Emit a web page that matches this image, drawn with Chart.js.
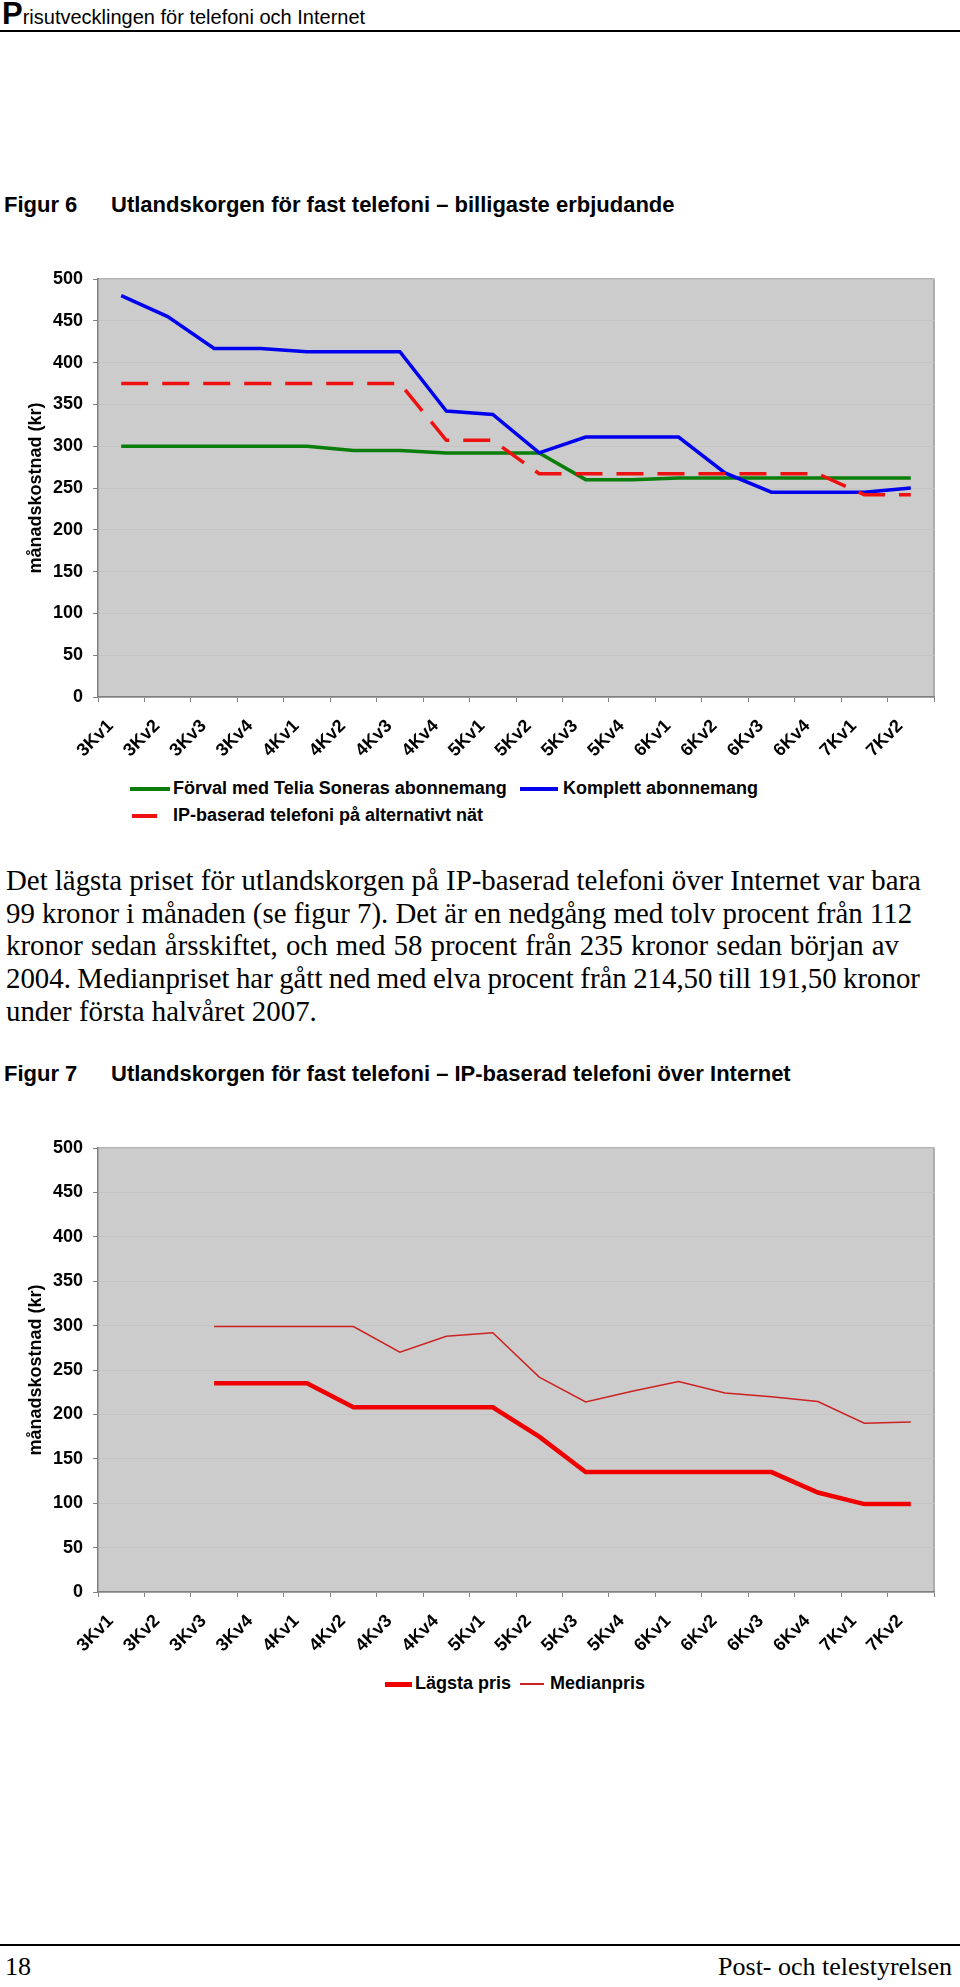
<!DOCTYPE html>
<html lang="sv">
<head>
<meta charset="UTF-8">
<title>Prisutvecklingen för telefoni och Internet</title>
<script src="https://cdn.jsdelivr.net/npm/chart.js@4"></script>
<style>
  body { margin: 0; background: #fff; }
  .page { position: relative; width: 960px; height: 1987px; overflow: hidden; font-family: "Liberation Sans", Arial, sans-serif; color: #000; }
  .abs { position: absolute; white-space: nowrap; }
  .rule { position: absolute; left: 0; width: 960px; height: 2px; background: #000; }
  .fig { font-size: 22px; font-weight: bold; line-height: 26px; }
  .leg { font-size: 18px; font-weight: bold; line-height: 20px; }
  .sw { position: absolute; }
  #para { position: absolute; left: 6px; top: 864px; font-family: "Liberation Serif", "Times New Roman", serif; font-size: 24px; line-height: 32.7px; }
  #para div { white-space: nowrap; }
  .foot { font-family: "Liberation Serif", serif; font-size: 26px; line-height: 30px; }
  canvas { position: absolute; left: 0; }
</style>
</head>
<body>
<div class="page">
  <div class="abs" style="left:2px; top:-1px; font-size:20px; line-height:30px;"><span style="font-size:31px; font-weight:bold;">P</span>risutvecklingen för telefoni och Internet</div>
  <div class="rule" style="top:30px;"></div>

  <div class="abs fig" style="left:4px; top:192px;">Figur 6</div>
  <div class="abs fig" style="left:111px; top:192px;">Utlandskorgen för fast telefoni – billigaste erbjudande</div>

  <canvas id="chart6" width="960" height="520" style="top:250px;"></canvas>

  <div class="sw" style="left:130px; top:787px; width:40px; height:3.5px; background:#0a7d0a;"></div>
  <div class="abs leg" style="left:173px; top:778px;">Förval med Telia Soneras abonnemang</div>
  <div class="sw" style="left:520px; top:787px; width:38px; height:3.5px; background:#0000ee;"></div>
  <div class="abs leg" style="left:563px; top:778px;">Komplett abonnemang</div>
  <div class="sw" style="left:132px; top:814px; width:25px; height:3.5px; background:#ee1111;"></div>
  <div class="abs leg" style="left:173px; top:805px;">IP-baserad telefoni på alternativt nät</div>

  <div id="para">
    <div><span>Det lägsta priset för utlandskorgen på IP-baserad telefoni över Internet var bara</span></div>
    <div><span>99 kronor i månaden (se figur 7). Det är en nedgång med tolv procent från 112</span></div>
    <div><span>kronor sedan årsskiftet, och med 58 procent från 235 kronor sedan början av</span></div>
    <div><span>2004. Medianpriset har gått ned med elva procent från 214,50 till 191,50 kronor</span></div>
    <div><span>under första halvåret 2007.</span></div>
  </div>

  <div class="abs fig" style="left:4px; top:1061px;">Figur 7</div>
  <div class="abs fig" style="left:111px; top:1061px;">Utlandskorgen för fast telefoni – IP-baserad telefoni över Internet</div>

  <canvas id="chart7" width="960" height="540" style="top:1120px;"></canvas>

  <div class="sw" style="left:385px; top:1682px; width:27px; height:4.5px; background:#ee0000;"></div>
  <div class="abs leg" style="left:415px; top:1673px;">Lägsta pris</div>
  <div class="sw" style="left:520px; top:1683px; width:24px; height:1.5px; background:#cc2222;"></div>
  <div class="abs leg" style="left:550px; top:1673px;">Medianpris</div>

  <div class="rule" style="top:1944px;"></div>
  <div class="abs foot" style="left:5px; top:1952px;">18</div>
  <div class="abs foot" style="right:8px; top:1952px;">Post- och telestyrelsen</div>
</div>

<script>
// kvartal: år (2003-2007) + kvartal
const kvartal = ['3Kv1', '3Kv2', '3Kv3', '3Kv4', '4Kv1', '4Kv2', '4Kv3', '4Kv4', '5Kv1', '5Kv2', '5Kv3', '5Kv4', '6Kv1', '6Kv2', '6Kv3', '6Kv4', '7Kv1', '7Kv2'];

// Figur 6 (kr/månad)
const forval   = [300, 300, 300, 300, 300, 295, 295, 292, 292, 292, 260, 260, 262, 262, 262, 262, 262, 262];
const komplett = [480, 455, 417, 417, 413, 413, 413, 342, 338, 292, 311, 311, 311, 268, 245, 245, 245, 250];
const ipNat    = [375, 375, 375, 375, 375, 375, 375, 307, 307, 267, 267, 267, 267, 267, 267, 267, 242, 242];

// Figur 7 (kr/månad)
const lagstaPris = [null, null, 235, 235, 235, 208, 208, 208, 208, 175, 135, 135, 135, 135, 135, 112, 99, 99];
const medianPris = [null, null, 299, 299, 299, 299, 270, 288, 292, 242, 214, 226, 237, 224, 220, 214.5, 190, 191.5];

const yMin = 0, yMax = 500, yStep = 50;

// grå plotyta + ram upptill/höger
const plotBg = {
  id: 'plotBg',
  beforeDraw(chart) {
    const { ctx, chartArea: a } = chart;
    ctx.save();
    ctx.fillStyle = '#cccccc';
    ctx.fillRect(a.left, a.top, a.right - a.left, a.bottom - a.top);
    ctx.strokeStyle = '#9a9a9a';
    ctx.lineWidth = 1.5;
    ctx.beginPath();
    ctx.moveTo(a.left, a.top);
    ctx.lineTo(a.right, a.top);
    ctx.lineTo(a.right, a.bottom);
    ctx.stroke();
    ctx.restore();
  }
};

function makeOptions(padTop, xHeight) {
  return {
    responsive: false,
    animation: false,
    layout: { padding: { top: padTop, right: 26, left: 0, bottom: 0 } },
    plugins: { legend: { display: false }, tooltip: { enabled: false } },
    elements: { point: { radius: 0 }, line: { tension: 0 } },
    scales: {
      x: {
        offset: true,
        afterFit: s => { s.height = xHeight; },
        grid: { offset: true, drawOnChartArea: false, drawTicks: true, tickLength: 5, tickColor: '#808080' },
        border: { color: '#808080', width: 1.5 },
        ticks: {
          autoSkip: false, minRotation: 45, maxRotation: 45, padding: 3,
          color: '#000', font: { family: 'Liberation Sans', size: 18, weight: 'bold' },
          callback: (v, i) => kvartal[i] + '   '
        }
      },
      y: {
        min: yMin, max: yMax,
        afterFit: s => { s.width = 98; },
        grid: { color: '#c4c4c4', lineWidth: 1, tickLength: 5, tickColor: '#808080' },
        border: { color: '#808080', width: 1.5 },
        ticks: { stepSize: yStep, padding: 10, color: '#000', font: { family: 'Liberation Sans', size: 18, weight: 'bold' } },
        title: {
          display: true, text: 'månadskostnad (kr)', color: '#000',
          padding: { top: 25, bottom: 0 },
          font: { family: 'Liberation Sans', size: 18, weight: 'bold' }
        }
      }
    }
  };
}

new Chart(document.getElementById('chart6'), {
  type: 'line',
  data: {
    labels: kvartal,
    datasets: [
      { label: 'Förval med Telia Soneras abonnemang', data: forval, borderColor: '#0a7d0a', borderWidth: 3.5, order: 2 },
      { label: 'Komplett abonnemang', data: komplett, borderColor: '#0000ee', borderWidth: 3.5, order: 1 },
      { label: 'IP-baserad telefoni på alternativt nät', data: ipNat, borderColor: '#ee1111', borderWidth: 3.5, borderDash: [27, 14], borderCapStyle: 'butt', order: 0 }
    ]
  },
  options: makeOptions(29, 73),
  plugins: [plotBg]
});

new Chart(document.getElementById('chart7'), {
  type: 'line',
  data: {
    labels: kvartal,
    datasets: [
      { label: 'Lägsta pris', data: lagstaPris, borderColor: '#ee0000', borderWidth: 4.5, order: 0 },
      { label: 'Medianpris', data: medianPris, borderColor: '#cc2222', borderWidth: 1.5, order: 1 }
    ]
  },
  options: makeOptions(28, 68),
  plugins: [plotBg]
});

// brödtexten: anpassa storlek/ordavstånd till radbredderna i förlagan
const lineW = [915, 906, 893, 914];
const spans = document.querySelectorAll('#para span');
const w0 = spans[0].getBoundingClientRect().width;
document.getElementById('para').style.fontSize = (24 * lineW[0] / w0).toFixed(2) + 'px';
spans.forEach((s, i) => {
  if (i === 0 || i >= lineW.length) return;
  const w = s.getBoundingClientRect().width;
  const gaps = s.textContent.split(' ').length - 1;
  s.style.wordSpacing = ((lineW[i] - w) / gaps).toFixed(2) + 'px';
});
</script>
</body>
</html>
